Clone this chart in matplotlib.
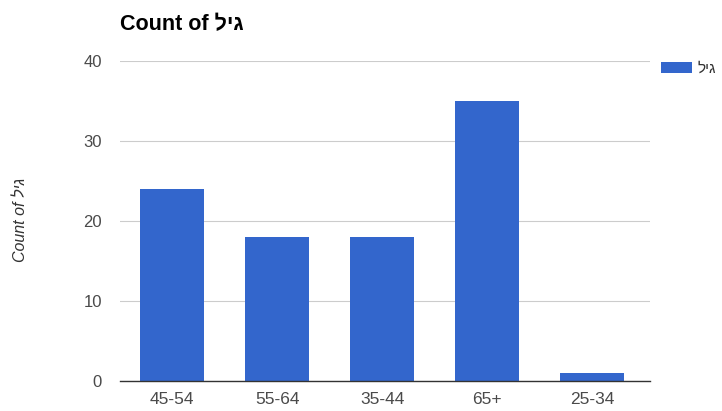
import matplotlib.pyplot as plt

plt.rcParams['font.family'] = ['Liberation Sans', 'DejaVu Sans']

# Hebrew word "גיל" (age); reversed so it shows right-to-left
word = "גיל"[::-1]

categories = ["45-54", "55-64", "35-44", "65+", "25-34"]
counts = [24, 18, 18, 35, 1]
yticks = [0, 10, 20, 30, 40]

fig = plt.figure(figsize=(7.22, 4.11), dpi=100)
ax = fig.add_axes([0.166, 0.073, 0.734, 0.779])

ax.bar(range(len(categories)), counts, width=0.61, color="#3366cc", label=word, zorder=3)

ax.set_xlim(-0.5, len(categories) - 0.45)
ax.set_ylim(0, 40)
ax.set_yticks(yticks)
ax.set_xticks(range(len(categories)))
ax.set_xticklabels(categories)
ax.tick_params(axis="both", length=0, labelcolor="#4a4a4a")
ax.tick_params(axis="x", labelsize=12.5, pad=8)
ax.tick_params(axis="y", labelsize=12, pad=13)
ax.grid(axis="y", color="#cccccc", linewidth=0.8, zorder=0)
for side in ["top", "right", "left"]:
    ax.spines[side].set_visible(False)
ax.spines["bottom"].set_color("#333333")
ax.spines["bottom"].set_linewidth(1.0)
ax.spines["bottom"].set_zorder(4)

fig.text(0.166, 0.94, "Count of " + word, fontsize=15.5, fontweight="bold", ha="left", va="center")
fig.text(0.028, 0.465, "Count of " + word, fontsize=11.5, style="italic", rotation=90,
         ha="center", va="center", color="#333333")

fig.legend(loc="upper left", bbox_to_anchor=(0.916, 0.85), frameon=False, fontsize=11,
           borderpad=0, borderaxespad=0, handlelength=2.0, handleheight=0.8,
           handletextpad=0.35, labelcolor="#333333")

fig.savefig("out.png", dpi=100, facecolor="white")
